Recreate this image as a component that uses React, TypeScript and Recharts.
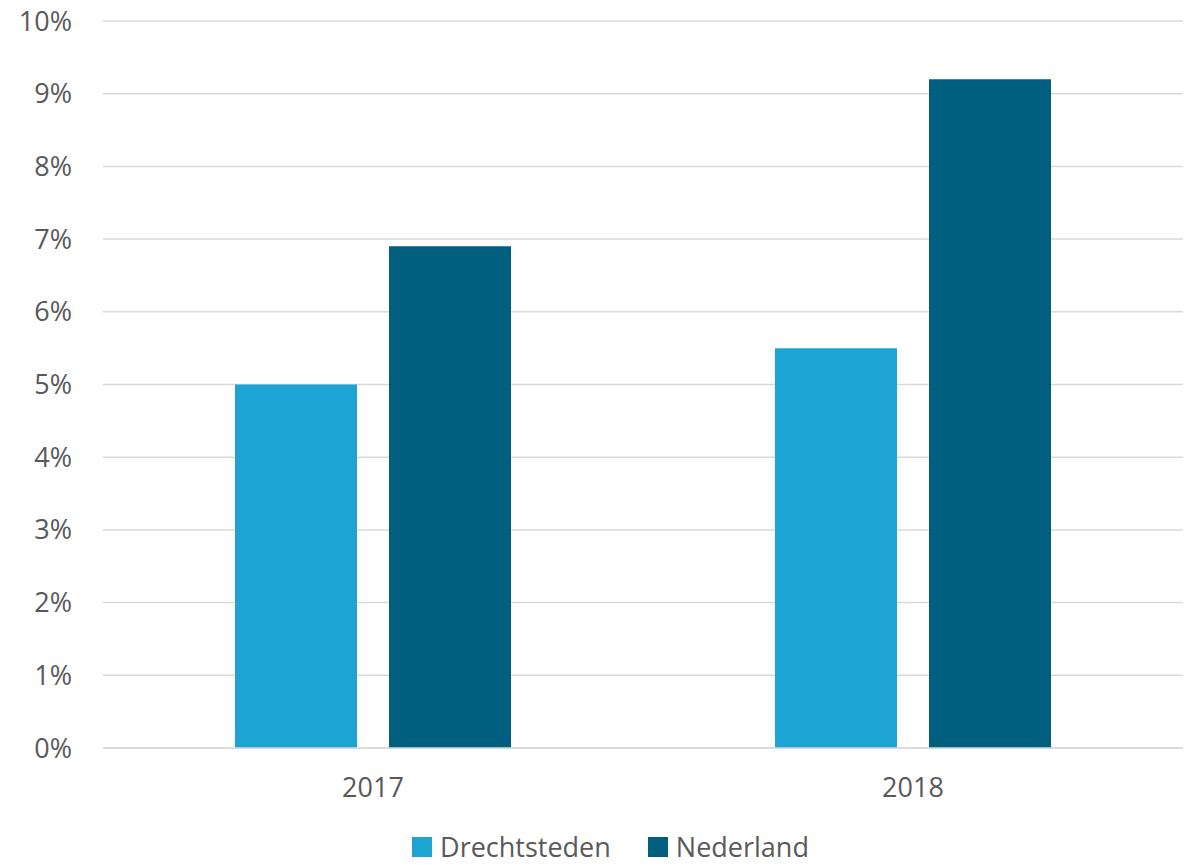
import { Bar, BarChart, CartesianGrid, Legend, XAxis, YAxis } from "recharts"

const years = ["2017", "2018"]
const drechtsteden = [5.0, 5.5]
const nederland = [6.9, 9.2]
const yTicks = [0, 1, 2, 3, 4, 5, 6, 7, 8, 9, 10]

const data = years.map((year, i) => ({
  year,
  Drechtsteden: drechtsteden[i],
  Nederland: nederland[i],
}))

const FONT = "'Open Sans', 'Liberation Sans', sans-serif"
const TEXT = "#595959"

function LegendContent({ payload }: any) {
  const items = payload || []
  return (
    <div
      style={{
        height: 40,
        boxSizing: "border-box",
        display: "flex",
        justifyContent: "center",
        alignItems: "flex-end",
        fontFamily: FONT,
        fontSize: 27,
        color: TEXT,
        lineHeight: "26px",
        paddingLeft: 38,
        paddingBottom: 5,
      }}
    >
      {items.map((p: any, i: number) => (
        <div
          key={p.value}
          style={{ display: "flex", alignItems: "center", marginRight: i < items.length - 1 ? 37 : 0 }}
        >
          <span style={{ width: 20, height: 20, background: p.color, display: "inline-block", marginRight: 8 }} />
          <span>{p.value}</span>
        </div>
      ))}
    </div>
  )
}

export default function App() {
  return (
    <div style={{ position: "absolute", left: 0, top: 0, background: "white" }}>
      <BarChart
        width={1188}
        height={865}
        data={data}
        margin={{ top: 21, right: 5, left: 0, bottom: 0 }}
        barCategoryGap={132}
        barGap={32}
      >
        <CartesianGrid horizontal={true} vertical={false} stroke="#d9d9d9" strokeWidth={1.5} />
        <XAxis
          dataKey="year"
          tickLine={false}
          tickSize={0}
          tickMargin={30}
          height={77}
          axisLine={{ stroke: "#d9d9d9", strokeWidth: 1.5 }}
          tick={{ fill: TEXT, fontSize: 27, fontFamily: FONT }}
        />
        <YAxis
          domain={[0, 10]}
          ticks={yTicks}
          interval={0}
          tickFormatter={(v) => `${v}%`}
          tickLine={false}
          axisLine={false}
          tickSize={0}
          tickMargin={31}
          width={103}
          tick={{ fill: TEXT, fontSize: 27, fontFamily: FONT }}
        />
        <Legend verticalAlign="bottom" content={<LegendContent />} />
        <Bar dataKey="Drechtsteden" fill="#1da3d4" isAnimationActive={false} />
        <Bar dataKey="Nederland" fill="#005f7f" isAnimationActive={false} />
      </BarChart>
    </div>
  )
}
